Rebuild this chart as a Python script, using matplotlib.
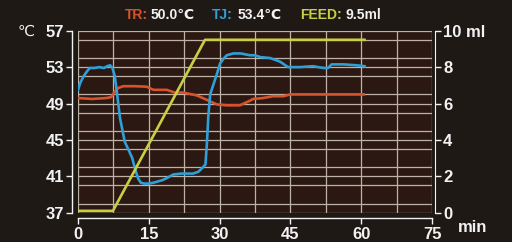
import matplotlib
matplotlib.use("Agg")
import matplotlib.pyplot as plt
from matplotlib.ticker import MultipleLocator

plt.rcParams['font.family'] = ['Liberation Sans Narrow', 'Liberation Sans', 'DejaVu Sans']
plt.rcParams['font.weight'] = 'bold'

# ---- data ----
tj_t = [0, 0.5, 1.2, 2.0, 2.5, 3.5, 4.5, 5.5, 6.2, 6.8, 7.3, 7.8, 8.3, 8.9, 9.9, 10.8, 11.5,
        12.0, 12.4, 12.8, 13.3, 14.0, 15.0, 16.0, 16.7, 18.0, 18.8, 20.2, 22.0, 24.4, 25.5,
        26.5, 27.0, 27.3, 27.6, 28.0, 28.7, 29.4, 30.1, 30.8, 31.5, 32.9, 34.5, 36.4, 37.5,
        38.6, 40.7, 42.8, 44.5, 47.0, 49.8, 52.0, 53.0, 53.7, 56.2, 59.0, 60.7]
tj_v = [50.5, 51.3, 52.0, 52.6, 52.9, 52.9, 53.0, 52.9, 53.1, 53.2, 52.9, 52.0, 50.0, 47.4, 44.8,
        43.8, 43.0, 42.0, 41.3, 40.7, 40.3, 40.2, 40.2, 40.3, 40.4, 40.6, 40.8, 41.2, 41.3, 41.3, 41.5,
        42.0, 42.3, 44.5, 47.5, 50.0, 51.1, 52.2, 53.4, 53.9, 54.3, 54.5, 54.5, 54.3, 54.3,
        54.1, 54.0, 53.6, 53.0, 53.0, 53.1, 52.9, 52.9, 53.3, 53.3, 53.2, 53.1]

tr_t = [0, 3, 6, 7.0, 7.8, 8.5, 9.6, 12.0, 14.5, 16.0, 18.8, 20.5, 22.3, 25.1, 27.3, 29.4, 31.5,
        34.3, 36.4, 37.1, 39.2, 41.3, 43.5, 45.0, 50.0, 55.0, 60.5]
tr_v = [49.6, 49.5, 49.6, 49.7, 50.3, 50.7, 50.9, 50.9, 50.85, 50.5, 50.5, 50.2, 50.2, 49.9, 49.4,
        48.9, 48.8, 48.8, 49.3, 49.5, 49.6, 49.8, 49.8, 50.0, 50.0, 50.0, 50.0]

feed_t = [0, 7.4, 26.9, 60.7]
feed_v = [0.1, 0.1, 9.5, 9.5]

x_ticks = [0, 15, 30, 45, 60, 75]
yl_ticks = [37, 41, 45, 49, 53, 57]
yr_ticks = [0, 2, 4, 6, 8, 10]
yr_labels = ['0', '2', '4', '6', '8', '10 ml']

# ---- style ----
BG = '#1f1916'
PLOT_BG = '#2b1812'
GRID = '#bdb2a6'
C_TR = '#d8532c'
C_TJ = '#2f9fd6'
C_FEED = '#c7d044'
WHITE = '#f2f2f2'

W, H = 512, 242
fig = plt.figure(figsize=(W / 100, H / 100), dpi=100, facecolor=BG)
ax = fig.add_axes([78 / W, 1 - 212.7 / H, (432 - 78) / W, (212.7 - 30.7) / H])
ax.set_facecolor(PLOT_BG)

ax.set_xlim(0, 75)
ax.set_ylim(37, 57)
ax.set_xticks(x_ticks)
ax.set_yticks(yl_ticks)
ax.xaxis.set_minor_locator(MultipleLocator(7.5))
ax.yaxis.set_minor_locator(MultipleLocator(2))
ax.grid(True, which='both', color=GRID, lw=0.9)
ax.set_axisbelow(True)
ax.tick_params(which='minor', length=0)
ax.tick_params(which='major', colors=WHITE, labelcolor=WHITE, labelsize=12,
               length=4, width=1, direction='out', pad=2)

ax.spines['top'].set_visible(False)
ax.spines['right'].set_visible(False)
for s in ['left', 'bottom']:
    ax.spines[s].set_color(WHITE)
    ax.spines[s].set_linewidth(1)
    ax.spines[s].set_position(('outward', 4))

ax.plot(tr_t, tr_v, color=C_TR, lw=1.9, solid_joinstyle='round', zorder=3)
ax.plot(tj_t, tj_v, color=C_TJ, lw=1.9, solid_joinstyle='round', zorder=3)

ax2 = ax.twinx()
ax2.set_ylim(0, 10)
ax2.set_yticks(yr_ticks)
ax2.set_yticklabels(yr_labels)
ax2.tick_params(colors=WHITE, labelcolor=WHITE, labelsize=12, length=4, width=1,
                direction='out', pad=2)
for s in ['top', 'left', 'bottom']:
    ax2.spines[s].set_visible(False)
ax2.spines['right'].set_color(WHITE)
ax2.spines['right'].set_position(('outward', 2))
ax2.plot(feed_t, feed_v, color=C_FEED, lw=1.9, solid_joinstyle='round', zorder=3)

# extra labels
fig.text(18 / W, 1 - 31 / H, '℃', color=WHITE, fontsize=11, va='center', ha='left',
         family=['DejaVu Sans'], weight='normal')
fig.text(458 / W, 1 - 228 / H, 'min', color=WHITE, fontsize=12, va='center', ha='left')

# title pieces
ty = 1 - 15 / H
parts = [(125, 'TR:', C_TR), (151, '50.0℃', WHITE), (212, 'TJ:', C_TJ), (238, '53.4℃', WHITE),
         (300, 'FEED:', C_FEED), (346, '9.5ml', WHITE)]
for x, s, c in parts:
    fig.text(x / W, ty, s, color=c, fontsize=10, va='center', ha='left')

fig.savefig('out.png', dpi=100, facecolor=BG)
